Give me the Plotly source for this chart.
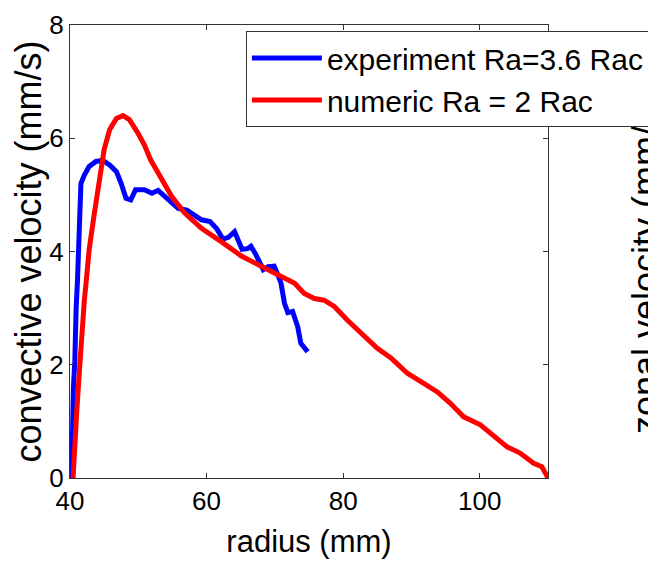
import plotly.graph_objects as go

# experiment Ra=3.6 Rac
exp_r = [40.25, 40.3, 40.5, 40.7, 40.75, 40.9, 41.1, 41.3, 41.5, 41.6, 42.1, 42.8, 43.8, 44.8,
         45.8, 46.8, 47.5, 48.2, 48.9, 49.6, 50.9, 52.0, 52.9, 53.6, 54.4, 55.1, 55.85, 57.1,
         58.3, 59.25, 60.5, 61.5, 62.4, 63.2, 64.1, 64.6, 65.2, 66.0, 66.5, 67.2, 68.3, 69.0,
         69.9, 70.4, 70.9, 71.4, 71.9, 72.6, 73.35, 73.8, 74.3, 74.8]
exp_v = [0.0, 0.8, 1.6, 2.05, 2.5, 3.0, 3.5, 4.03, 4.9, 5.2, 5.35, 5.5, 5.59, 5.61,
         5.53, 5.41, 5.2, 4.94, 4.91, 5.09, 5.09, 5.03, 5.08, 5.0, 4.92, 4.85, 4.76, 4.73,
         4.62, 4.56, 4.53, 4.4, 4.22, 4.25, 4.35, 4.2, 4.04, 4.05, 4.09, 3.95, 3.68, 3.73,
         3.74, 3.6, 3.44, 3.09, 2.92, 2.94, 2.67, 2.38, 2.3, 2.23]

# numeric Ra = 2 Rac
num_r = [40.45, 40.7, 41.0, 41.3, 41.55, 41.85, 42.1, 42.4, 42.8, 43.5, 44.3, 45.0, 45.8, 46.8,
         47.75, 48.7, 49.9, 50.9, 51.8, 52.9, 54.9, 56.8, 59.25, 62.2, 65.1, 68.0, 70.9, 72.9,
         74.3, 75.8, 77.2, 78.7, 80.6, 82.6, 85.0, 87.0, 89.4, 91.8, 93.8, 95.7, 97.65, 100.1,
         102.0, 104.0, 105.9, 107.9, 109.1, 109.6, 110.0]
num_v = [0.0, 0.67, 1.2, 1.75, 2.3, 2.85, 3.14, 3.5, 4.03, 4.62, 5.2, 5.8, 6.15, 6.35,
         6.4, 6.33, 6.1, 5.88, 5.62, 5.38, 4.97, 4.68, 4.41, 4.17, 3.92, 3.74, 3.56, 3.44,
         3.26, 3.17, 3.14, 3.03, 2.79, 2.56, 2.29, 2.12, 1.85, 1.67, 1.52, 1.32, 1.08, 0.94,
         0.76, 0.55, 0.44, 0.26, 0.2, 0.1, 0.0]

x_ticks = [40, 60, 80, 100]
y_ticks = [0, 2, 4, 6, 8]

FONT = "Liberation Sans, Arial, sans-serif"
AX = "#333333"

fig = go.Figure()
fig.add_trace(go.Scatter(x=exp_r, y=exp_v, mode="lines", name="experiment Ra=3.6 Rac",
                         line=dict(color="#0000ff", width=5)))
fig.add_trace(go.Scatter(x=num_r, y=num_v, mode="lines", name="numeric Ra = 2 Rac",
                         line=dict(color="#ff0000", width=5)))

fig.update_layout(
    width=648, height=562,
    margin=dict(l=62, r=108, t=17, b=92, autoexpand=False),
    paper_bgcolor="white", plot_bgcolor="white",
    font=dict(family=FONT, color="black"),
    showlegend=True,
    legend=dict(x=0.368, y=0.987, xanchor="left", yanchor="top",
                bgcolor="white", bordercolor=AX, borderwidth=1,
                font=dict(size=30, family=FONT, color="black"),
                tracegroupgap=0, itemwidth=70),
    xaxis=dict(range=[40, 110], tickvals=x_ticks, ticks="inside", ticklen=5, tickcolor=AX,
               showline=True, linecolor=AX, linewidth=1, mirror="ticks", showgrid=False,
               zeroline=False, tickfont=dict(size=26, family=FONT), automargin=False,
               title=dict(text="radius (mm)", font=dict(size=31, family=FONT))),
    yaxis=dict(range=[0, 8], tickvals=y_ticks, ticks="inside", ticklen=5, tickcolor=AX,
               showline=True, linecolor=AX, linewidth=1, mirror="ticks", showgrid=False,
               zeroline=False, tickfont=dict(size=26, family=FONT), automargin=False,
               title=dict(text="convective velocity (mm/s)", font=dict(size=36, family=FONT))),
)

# axis title of the neighbouring (cropped) panel, drawn beneath the legend
fig.add_shape(type="rect", xref="paper", yref="paper", x0=1.177, x1=1.219, y0=0.30, y1=0.64,
              line=dict(width=0), fillcolor="rgba(0,0,0,0)", layer="above",
              label=dict(text="zonal velocity (mm/s)", textangle=-90,
                         textposition="middle center",
                         font=dict(size=36, family=FONT, color="black")))

fig.write_html("out.html")
